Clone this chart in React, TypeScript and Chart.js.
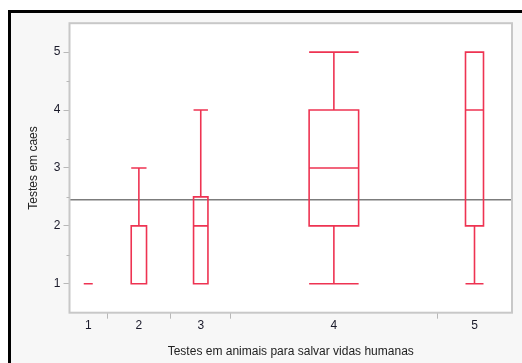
import React, { useEffect, useRef } from 'react';
import { Chart, registerables } from 'chart.js';

Chart.register(...registerables);

// ---- data ----
const categories = ['1', '2', '3', '4', '5'];
const groupCounts = [10, 17, 16, 55, 20];
const mins = [1, 1, 1, 1, 1];
const q1s = [1, 1, 1, 2, 2];
const medians = [1, 1, 2, 3, 4];
const q3s = [1, 2, 2.5, 4, 5];
const maxs = [1, 3, 4, 5, 5];
const grandMean = 2.45;
const yTickValues = [1, 2, 3, 4, 5];
const yMinorTickValues = [1.5, 2.5, 3.5, 4.5];
const yMin = 0.5;
const yMax = 5.5;
const xTitle = 'Testes em animais para salvar vidas humanas';
const yTitle = 'Testes em caes';

// ---- derived ----
const total = groupCounts.reduce((a, b) => a + b, 0);
const starts: number[] = [];
groupCounts.reduce((acc, n) => { starts.push(acc); return acc + n; }, 0);
const centers = groupCounts.map((n, i) => starts[i] + n / 2);
const boundaries = starts.slice(1);

const RED = '#ee3352';
const AXIS_GREY = '#b8b8b8';
const FONT = "'Liberation Sans', Arial, sans-serif";

const boxPlugin = {
  id: 'boxPlugin',
  beforeDraw(chart: any) {
    const { ctx, chartArea } = chart;
    ctx.save();
    ctx.fillStyle = '#ffffff';
    ctx.fillRect(chartArea.left, chartArea.top, chartArea.width, chartArea.height);
    ctx.restore();
  },
  afterDatasetsDraw(chart: any) {
    const { ctx, chartArea } = chart;
    const x = chart.scales.x;
    const y = chart.scales.y;
    const py = (v: number) => y.getPixelForValue(v);
    ctx.save();
    ctx.strokeStyle = RED;
    ctx.lineWidth = 1.6;
    categories.forEach((_, i) => {
      const c = centers[i];
      const hw = groupCounts[i] * 0.12;
      const xl = x.getPixelForValue(c - hw);
      const xr = x.getPixelForValue(c + hw);
      const xc = x.getPixelForValue(c);
      ctx.beginPath();
      if (q3s[i] > q1s[i]) {
        ctx.rect(xl, py(q3s[i]), xr - xl, py(q1s[i]) - py(q3s[i]));
      } else {
        ctx.moveTo(xl, py(q1s[i]));
        ctx.lineTo(xr, py(q1s[i]));
      }
      ctx.moveTo(xl, py(medians[i]));
      ctx.lineTo(xr, py(medians[i]));
      if (maxs[i] > q3s[i]) {
        ctx.moveTo(xc, py(q3s[i]));
        ctx.lineTo(xc, py(maxs[i]));
        ctx.moveTo(xl, py(maxs[i]));
        ctx.lineTo(xr, py(maxs[i]));
      }
      if (mins[i] < q1s[i]) {
        ctx.moveTo(xc, py(q1s[i]));
        ctx.lineTo(xc, py(mins[i]));
        ctx.moveTo(xl, py(mins[i]));
        ctx.lineTo(xr, py(mins[i]));
      }
      ctx.stroke();
    });
    // frame
    ctx.strokeStyle = '#c8c8c8';
    ctx.lineWidth = 2;
    ctx.strokeRect(chartArea.left, chartArea.top, chartArea.width, chartArea.height);
    // minor y ticks
    ctx.strokeStyle = AXIS_GREY;
    ctx.lineWidth = 1;
    ctx.beginPath();
    yMinorTickValues.forEach((v) => {
      const yy = Math.round(py(v)) + 0.5;
      ctx.moveTo(chartArea.left - 3, yy);
      ctx.lineTo(chartArea.left, yy);
    });
    ctx.stroke();
    ctx.restore();
  },
};

export default function App() {
  const canvasRef = useRef<HTMLCanvasElement | null>(null);

  useEffect(() => {
    if (!canvasRef.current) return;
    const chart = new Chart(canvasRef.current, {
      type: 'line',
      data: {
        datasets: [
          {
            data: [
              { x: 0, y: grandMean },
              { x: total, y: grandMean },
            ],
            borderColor: '#7c7c7c',
            borderWidth: 1.5,
            pointRadius: 0,
            fill: false,
          },
        ],
      },
      options: {
        animation: false,
        responsive: true,
        maintainAspectRatio: false,
        layout: { padding: { left: 0, top: 7, right: 10, bottom: 0 } },
        plugins: { legend: { display: false }, tooltip: { enabled: false } },
        scales: {
          x: {
            type: 'linear',
            min: 0,
            max: total,
            border: { display: false },
            grid: {
              drawOnChartArea: false,
              drawTicks: true,
              tickLength: 6,
              tickColor: (ctx: any) =>
                ctx.tick && centers.includes(ctx.tick.value) ? 'rgba(0,0,0,0)' : AXIS_GREY,
            },
            afterBuildTicks: (axis: any) => {
              axis.ticks = [...centers, ...boundaries]
                .sort((a, b) => a - b)
                .map((v) => ({ value: v }));
            },
            afterFit: (scale: any) => {
              scale.height = 50.3;
            },
            ticks: {
              autoSkip: false,
              maxRotation: 0,
              padding: 0,
              color: '#1a1a2a',
              font: { family: FONT, size: 12 },
              callback: (value: any) => {
                const idx = centers.indexOf(Number(value));
                return idx >= 0 ? categories[idx] : '';
              },
            },
            title: {
              display: true,
              text: xTitle,
              color: '#222222',
              font: { family: FONT, size: 12 },
              padding: { top: 0, bottom: 4 },
            },
          },
          y: {
            type: 'linear',
            min: yMin,
            max: yMax,
            border: { display: false },
            grid: {
              drawOnChartArea: false,
              drawTicks: true,
              tickLength: 6,
              tickColor: AXIS_GREY,
            },
            afterBuildTicks: (axis: any) => {
              axis.ticks = yTickValues.map((v) => ({ value: v }));
            },
            afterFit: (scale: any) => {
              scale.width = 58.5;
            },
            ticks: {
              padding: 3,
              color: '#1a1a2a',
              font: { family: FONT, size: 12 },
              callback: (value: any) => String(value),
            },
            title: {
              display: true,
              text: yTitle,
              color: '#222222',
              font: { family: FONT, size: 12 },
              padding: { top: 15, bottom: 0 },
            },
          },
        },
      },
      plugins: [boxPlugin],
    } as any);
    return () => chart.destroy();
  }, []);

  return (
    <div
      style={{
        position: 'absolute',
        left: 8,
        top: 10,
        width: 514,
        height: 353,
        boxSizing: 'border-box',
        borderTop: '3px solid #000',
        borderLeft: '3px solid #000',
        background: '#f7f7f7',
      }}
    >
      <div style={{ position: 'relative', width: 511, height: 350 }}>
        <canvas ref={canvasRef} />
      </div>
    </div>
  );
}
